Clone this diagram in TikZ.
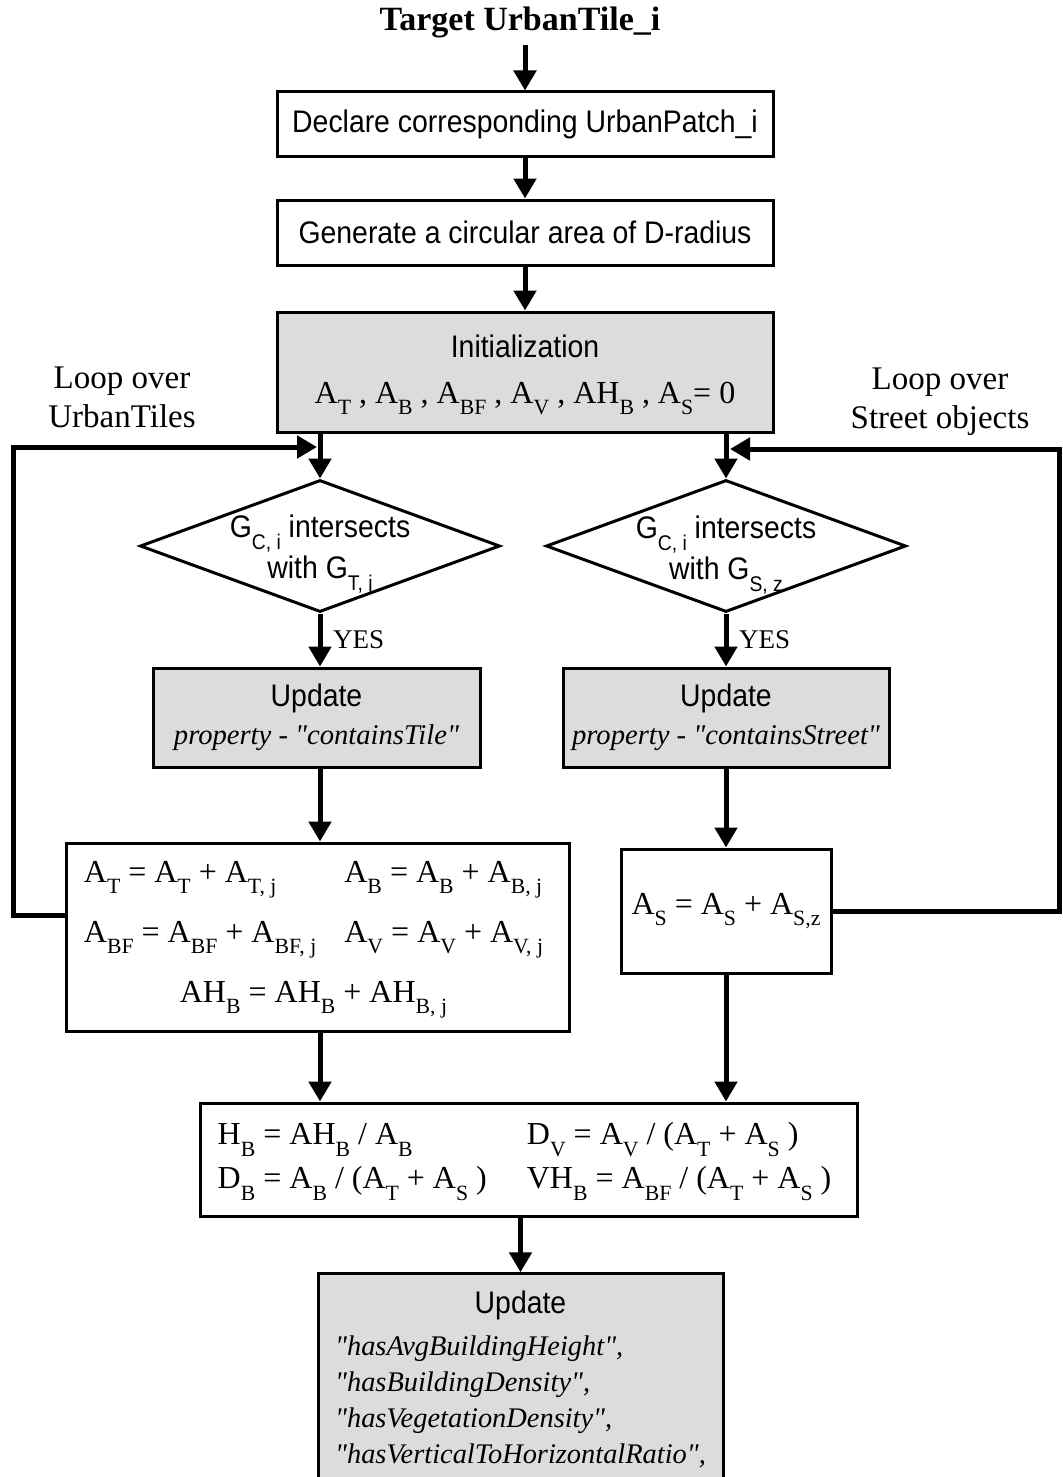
\documentclass[tikz,border=0pt]{standalone}
\usepackage{fontspec}
\setmainfont{Liberation Serif}
\setsansfont{Liberation Sans}[FakeStretch=0.91]
\newfontfamily\plainrm{Liberation Serif}
\usepackage{graphicx}
\usetikzlibrary{shapes.geometric,arrows.meta}
\newcommand{\ix}[1]{\raisebox{-0.36em}{\scalebox{0.68}{#1}}}
\definecolor{fillgray}{RGB}{220,220,220}

\begin{document}
\begin{tikzpicture}[
    x=0.5pt, y=-0.5pt,
    box/.style={
        rectangle,
        draw=black,
        line width=1.5pt,
        inner sep=4pt,
        align=center,
        font=\sffamily\fontsize{15.6}{19}\selectfont
    },
    shaded/.style={box, fill=fillgray},
    decision/.style={
        diamond,
        draw=black,
        line width=1.5pt,
        minimum width=180pt,
        minimum height=66pt,
        inner sep=0pt
    },
    dtext/.style={align=center, font=\sffamily\fontsize{15.6}{20.5}\selectfont},
    mathtxt/.style={font=\rmfamily\fontsize{16}{19}\selectfont},
    note/.style={align=center, font=\rmfamily\fontsize{16.5}{19.5}\selectfont},
    yes/.style={font=\rmfamily\fontsize{13.5}{16}\selectfont},
    arrow/.style={-{Triangle[length=10pt,width=11pt]}, line width=2.5pt}
]
\useasboundingbox (0,0) rectangle (1063,1477);

\node[font=\rmfamily\bfseries\fontsize{17}{20}\selectfont] (target) at (520,22) {Target UrbanTile\_i};

\node[box, minimum width=248pt, minimum height=32pt] (declare) at (525,124) {Declare corresponding UrbanPatch\_i};

\node[box, minimum width=248pt, minimum height=32.5pt] (area) at (525,232.5) {Generate a circular area of D-radius};

\node[shaded, minimum width=248pt, minimum height=60pt] (init) at (525,372) {
\rule{0pt}{14.4pt}Initialization\\[4pt]
{\rmfamily\fontsize{16}{19}\selectfont A\ix{T} , A\ix{B} , A\ix{BF} , A\ix{V} , AH\ix{B} , A\ix{S}= 0}
};

\node[note] (loopT) at (122,397) {Loop over\\UrbanTiles};
\node[note] (loopS) at (940,402) {Loop over\\Street objects};

% checks
\node[decision] (chkT) at (320,546) {};
\node[dtext] (chkTtxt) at ([yshift=-4.5pt]chkT.center) {G\ix{C, i} intersects\\with G\ix{T, j}};
\node[decision] (chkS) at (726,546) {};
\node[dtext] (chkStxt) at ([yshift=-4.5pt]chkS.center) {G\ix{C, i} intersects\\with G\ix{S, z}};

% updates
\node[shaded, minimum width=163.5pt, minimum height=49.5pt] (updT) at (316.5,717.5) {
Update\\
{\plainrm\itshape\fontsize{14.3}{19}\selectfont property - "containsTile"}
};
\node[shaded, minimum width=163pt, minimum height=49.5pt] (updS) at (726,717.5) {
Update\\
{\plainrm\itshape\fontsize{14.3}{19}\selectfont property - "containsStreet"}
};

% sums
\node[box, mathtxt, minimum width=251.5pt, minimum height=94pt] (sumT) at (317.5,937) {
\begin{tabular}{@{}l@{\hspace{14pt}}l@{}}
A\ix{T} = A\ix{T} + A\ix{T, j} & A\ix{B} = A\ix{B} + A\ix{B, j}\\[11pt]
A\ix{BF} = A\ix{BF} + A\ix{BF, j} & A\ix{V} = A\ix{V} + A\ix{V, j}\\[11pt]
\multicolumn{2}{c}{AH\ix{B} = AH\ix{B} + AH\ix{B, j}}
\end{tabular}
};
\node[box, mathtxt, minimum width=105pt, minimum height=62pt] (sumS) at (726,911) {A\ix{S} = A\ix{S} + A\ix{S,z}};

% indicators
\node[box, mathtxt, minimum width=328.5pt, minimum height=56.5pt] (calc) at (528.5,1159.5) {
\begin{tabular}{@{}l@{\hspace{20pt}}l@{}}
H\ix{B} = AH\ix{B} / A\ix{B} & D\ix{V} = A\ix{V} / (A\ix{T} + A\ix{S} )\\[3pt]
D\ix{B} = A\ix{B} / (A\ix{T} + A\ix{S} ) & VH\ix{B} = A\ix{BF} / (A\ix{T} + A\ix{S} )
\end{tabular}
};

\node[shaded, inner ysep=2pt, minimum width=202.5pt, minimum height=101pt] (final) at (520.5,1376) {
\rule{0pt}{18pt}Update\\[4pt]
{\plainrm\itshape\fontsize{14.2}{18}\selectfont
\begin{tabular}{@{}l@{}}
"hasAvgBuildingHeight",\\
"hasBuildingDensity",\\
"hasVegetationDensity",\\
"hasVerticalToHorizontalRatio",
\end{tabular}}
};

\coordinate (joinT) at (317,447);
\coordinate (joinS) at (730,449);

\draw[arrow] (declare.north |- target.south) -- (declare.north);
\draw[arrow] (declare) -- (area);
\draw[arrow] (area) -- (init);
\draw[arrow] (chkT.north |- init.south) -- (chkT.north);
\draw[arrow] (chkS.north |- init.south) -- (chkS.north);
\draw[arrow] (chkT.south) -- node[yes, right=2pt] (yesT) {YES} (chkT.south |- updT.north);
\draw[arrow] (chkS.south) -- node[yes, right=2pt] (yesS) {YES} (chkS.south |- updS.north);
\draw[arrow] (chkT.south |- updT.south) -- (chkT.south |- sumT.north);
\draw[arrow] (updS.south) -- (updS.south |- sumS.north);
\draw[arrow] (chkT.south |- sumT.south) -- (chkT.south |- calc.north);
\draw[arrow] (sumS.south) -- (sumS.south |- calc.north);
\draw[arrow] (final.north |- calc.south) -- (final.north);

% loops
\draw[arrow] ([yshift=11pt]sumT.west) -- ++(-51,0) |- (joinT);
\draw[arrow] (sumS.east) -- ++(227,0) |- (joinS);

\end{tikzpicture}
\end{document}
